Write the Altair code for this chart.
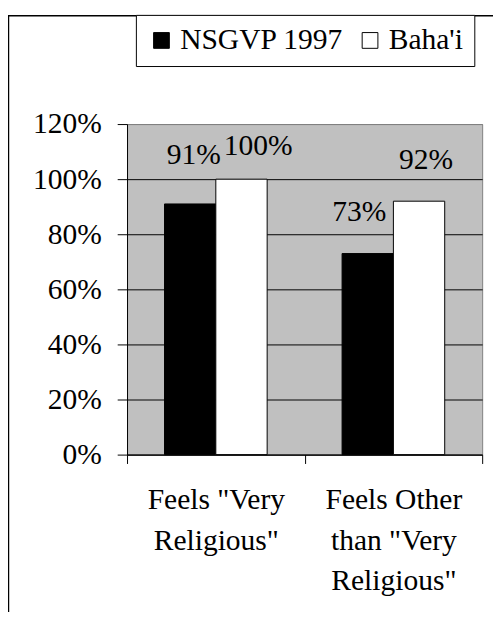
import altair as alt
import pandas as pd

categories = ["Feels \"Very\nReligious\"", "Feels Other\nthan \"Very\nReligious\""]
series = ["NSGVP 1997", "Baha'i"]
nsgvp = [91, 73]
bahai = [100, 92]
y_ticks = [0, 20, 40, 60, 80, 100, 120]
colors = ["black", "white"]

rows = []
for i, c in enumerate(categories):
    for si, vals in enumerate([nsgvp, bahai]):
        rows.append({"cat": c, "ci": i, "si": si, "series": series[si],
                     "value": vals[i], "label": f"{vals[i]}%"})
df = pd.DataFrame(rows)

FONT = "'Times New Roman', 'Liberation Serif', Times, serif"

x_enc = alt.X(
    "cat:N", sort=categories, title=None,
    scale=alt.Scale(paddingInner=0, paddingOuter=0),
    axis=alt.Axis(labelExpr="split(datum.label, '\\n')", labelAngle=0, labelFont=FONT,
                  labelFontSize=30, labelColor="black", labelLineHeight=41, labelPadding=22,
                  tickBand="extent", tickSize=9, tickColor="black", domainColor="black",
                  labelLimit=0, labelOverlap=False, grid=False),
)
xo_enc = alt.XOffset("series:N", sort=series, scale=alt.Scale(paddingOuter=0.73, paddingInner=0))
y_enc = alt.Y(
    "value:Q", title=None,
    scale=alt.Scale(domain=[0, 120], nice=False),
    axis=alt.Axis(values=y_ticks, labelExpr="datum.value + '%'", labelFont=FONT,
                  labelFontSize=30, labelColor="black", labelPadding=16, tickSize=10,
                  tickColor="black", domainColor="black", grid=True,
                  gridColor=alt.condition("datum.value === 120", alt.value("#808080"), alt.value("black")),
                  gridOpacity=1),
)

bars = alt.Chart(df).mark_bar(stroke="black", strokeWidth=1).encode(
    x=x_enc, xOffset=xo_enc, y=y_enc,
    color=alt.Color("series:N", sort=series,
                    scale=alt.Scale(domain=series, range=colors),
                    legend=alt.Legend(title=None, orient="none", legendX=9, legendY=-111,
                                      direction="horizontal", columns=2, symbolType="square",
                                      symbolSize=256, symbolStrokeColor="black", symbolStrokeWidth=1,
                                      symbolOpacity=1, labelFont=FONT, labelFontSize=30,
                                      labelColor="black", labelOffset=4, columnPadding=12,
                                      padding=11, strokeColor="black", fillColor="white",
                                      labelLimit=0)),
)

label_offsets = [(0, 0, 3.7, -41), (0, 1, 17, -25), (1, 0, -8.5, -33), (1, 1, 7, -32.5)]
texts = []
for ci, si, dx, dy in label_offsets:
    texts.append(
        alt.Chart(df).transform_filter(f"datum.ci == {ci} && datum.si == {si}")
        .mark_text(dx=dx, dy=dy, align="center", baseline="alphabetic", font=FONT,
                   fontSize=30, color="black")
        .encode(x=x_enc, xOffset=xo_enc, y=y_enc, text="label:N")
    )

dummy = pd.DataFrame({"a": [0]})
frame_left = alt.Chart(dummy).mark_rule(color="black", strokeWidth=1.5).encode(
    x=alt.value(-120.5), y=alt.value(-110), y2=alt.value(600))
frame_top = alt.Chart(dummy).mark_rule(color="black", strokeWidth=1.5).encode(
    x=alt.value(-121), x2=alt.value(400), y=alt.value(-110))

chart = alt.layer(bars, *texts, frame_left, frame_top).properties(
    width=361, height=336,
    autosize=alt.AutoSizeParams(type="none"),
    padding={"left": 121, "top": 113, "right": 11, "bottom": 155},
).configure(font=FONT).configure_axis(
    labelFont=FONT, labelFontSize=30, labelColor="black"
).configure_text(font=FONT).configure_legend(
    labelFont=FONT
).configure_view(fill="#C0C0C0", stroke="#808080", strokeWidth=1)

chart.save("out.html", embed_options={"renderer": "svg", "actions": False})
